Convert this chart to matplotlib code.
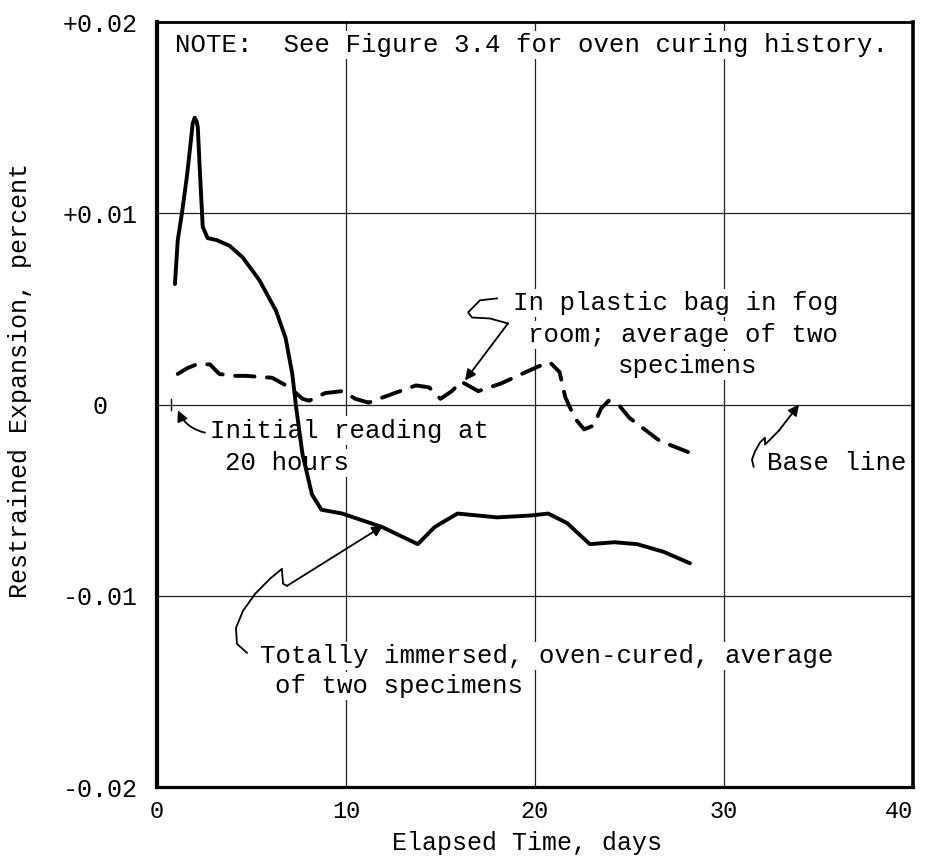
import matplotlib
matplotlib.use("Agg")
import matplotlib.pyplot as plt

plt.rcParams['font.family'] = ['Liberation Mono', 'DejaVu Sans Mono']

# totally immersed, oven-cured specimens (days, percent)
immersed_days = [0.95, 1.1, 1.32, 1.58, 1.74, 1.89, 2.0, 2.1, 2.16, 2.26, 2.42, 2.68,
                 3.16, 3.84, 4.53, 5.42, 6.3, 6.8, 7.16, 7.37, 7.7, 8.2, 8.7, 9.8,
                 11.9, 13.8, 14.7, 15.9, 18.0, 19.8, 20.7, 21.7, 22.9, 24.2, 25.4,
                 26.8, 28.2]
immersed_exp = [0.0063, 0.0086, 0.0100, 0.0119, 0.0133, 0.0147, 0.0150, 0.0148,
                0.0145, 0.0124, 0.0093, 0.0087, 0.0086, 0.0083, 0.0077, 0.0065,
                0.0049, 0.0035, 0.0016, -0.0002, -0.0026, -0.0047, -0.0055,
                -0.0057, -0.0064, -0.0073, -0.0064, -0.0057, -0.0059, -0.0058,
                -0.0057, -0.0062, -0.0073, -0.0072, -0.0073, -0.0077, -0.0083]

# plastic bag in fog room
bag_days = [1.1, 1.6, 2.1, 2.8, 3.3, 4.0, 4.7, 6.1, 7.0, 7.7, 8.05, 8.9, 9.8, 10.5,
            11.2, 12.3, 13.7, 14.4, 15.0, 15.6, 16.1, 17.0, 18.2, 19.3, 20.2, 20.8,
            21.3, 21.6, 22.1, 22.6, 23.1, 23.5, 23.9, 24.5, 25.0, 26.6, 28.4]
bag_exp = [0.0016, 0.0019, 0.0021, 0.0021, 0.0016, 0.0015, 0.0015, 0.0014, 0.0009,
           0.0003, 0.0002, 0.0006, 0.0007, 0.0003, 0.0001, 0.0005, 0.0010, 0.0009,
           0.0003, 0.0007, 0.0012, 0.0007, 0.0011, 0.0016, 0.0020, 0.0022, 0.0017,
           0.0004, -0.0007, -0.0013, -0.0011, -0.0002, 0.0002, -0.0001, -0.0007,
           -0.0019, -0.0026]

x_ticks = [0, 10, 20, 30, 40]
x_ticklabels = ['0', '10', '20', '30', '40']
y_ticks = [0.02, 0.01, 0.0, -0.01, -0.02]
y_ticklabels = ['+0.02', '+0.01', '  0  ', '-0.01', '-0.02']

initial_reading_day = 0.75

fig = plt.figure(figsize=(9.25, 8.61), dpi=100)
ax = fig.add_axes([0.1697, 0.0859, 0.8173, 0.8885])

ax.set_xlim(0, 40)
ax.set_ylim(-0.02, 0.02)
ax.set_xticks(x_ticks)
ax.set_xticklabels(x_ticklabels)
ax.set_yticks(y_ticks)
ax.set_yticklabels(y_ticklabels)
ax.tick_params(axis='x', length=0, pad=9, labelsize=17)
ax.tick_params(axis='y', length=0, pad=14, labelsize=18)
ax.get_xticklabels()[-1].set_ha('right')

for x in [10, 20, 30]:
    ax.axvline(x, color='#222222', lw=0.9, zorder=1)
for y in [0.01, 0.0, -0.01]:
    ax.axhline(y, color='#222222', lw=0.9, zorder=1)

ax.spines['left'].set_linewidth(3.0)
ax.spines['bottom'].set_linewidth(2.3)
ax.spines['right'].set_linewidth(2.6)
ax.spines['top'].set_linewidth(2.0)
for s in ax.spines.values():
    s.set_zorder(6)

ax.plot(immersed_days, immersed_exp, color='black', lw=2.8,
        solid_joinstyle='round', solid_capstyle='round', zorder=5)
ax.plot(bag_days, bag_exp, color='black', lw=2.8, dashes=(5, 3.2),
        dash_capstyle='round', zorder=5)

# tick on base line marking the first reading
ax.plot([initial_reading_day, initial_reading_day], [-0.0003, 0.0003],
        color='black', lw=1.0, zorder=4)

box = dict(facecolor='white', edgecolor='none', pad=1.5)
fs = 18.5

ax.text(0.95, 0.0188, 'NOTE:  See Figure 3.4 for oven curing history.',
        fontsize=fs, va='center', ha='left', bbox=box, zorder=3)

ax.text(18.84, 0.00529, 'In plastic bag in fog', fontsize=fs,
        va='center', ha='left', bbox=box, zorder=3)
ax.text(19.64, 0.00362, 'room; average of two', fontsize=fs,
        va='center', ha='left', bbox=box, zorder=3)
ax.text(24.4, 0.00204, 'specimens', fontsize=fs,
        va='center', ha='left', bbox=box, zorder=3)

ax.text(2.80, -0.00136, 'Initial reading at', fontsize=fs,
        va='center', ha='left', bbox=box, zorder=3)
ax.text(3.6, -0.00304, '20 hours', fontsize=fs,
        va='center', ha='left', bbox=box, zorder=3)

ax.text(32.3, -0.00304, 'Base line', fontsize=fs,
        va='center', ha='left', bbox=box, zorder=3)

ax.text(5.45, -0.01314, 'Totally immersed, oven-cured, average', fontsize=fs,
        va='center', ha='left', bbox=box, zorder=3)
ax.text(6.24, -0.01471, 'of two specimens', fontsize=fs,
        va='center', ha='left', bbox=box, zorder=3)

# leader lines
head = dict(arrowstyle='-|>', color='black', lw=1.3, mutation_scale=16,
            shrinkA=0, shrinkB=0)

ax.annotate('', xy=(1.11, -0.0003), xytext=(2.54, -0.00147),
            arrowprops=dict(head, connectionstyle='arc3,rad=-0.25'), zorder=4)

bag_x = [17.99, 17.09, 16.46, 16.67, 17.62, 18.57]
bag_y = [0.00555, 0.00545, 0.00482, 0.00455, 0.0045, 0.00424]
ax.plot(bag_x, bag_y, color='black', lw=1.3, zorder=4)
ax.annotate('', xy=(16.3, 0.00126), xytext=(18.57, 0.00424),
            arrowprops=head, zorder=4)

base_x = [31.57, 31.48, 31.64, 31.9, 32.17, 32.17, 32.28, 32.91]
base_y = [-0.00325, -0.00288, -0.00246, -0.00199, -0.00173, -0.00209,
          -0.00199, -0.00136]
ax.plot(base_x, base_y, color='black', lw=1.3, zorder=4)
ax.annotate('', xy=(33.97, 0.0), xytext=(32.91, -0.00136),
            arrowprops=head, zorder=4)

imm_x = [4.76, 4.23, 4.18, 4.55, 5.19, 5.98, 6.61, 6.67, 6.88]
imm_y = [-0.01298, -0.01251, -0.01168, -0.01079, -0.0099, -0.00911,
         -0.00859, -0.00937, -0.00948]
ax.plot(imm_x, imm_y, color='black', lw=1.3, zorder=4)
ax.annotate('', xy=(11.96, -0.00634), xytext=(6.88, -0.00948),
            arrowprops=head, zorder=4)

ax.set_xlabel('Elapsed Time, days', fontsize=18)
ax.xaxis.set_label_coords(0.489, -0.058)
ax.set_ylabel('Restrained Expansion, percent', fontsize=18)
ax.yaxis.set_label_coords(-0.165, 0.532)

fig.savefig('out.png', dpi=100)
